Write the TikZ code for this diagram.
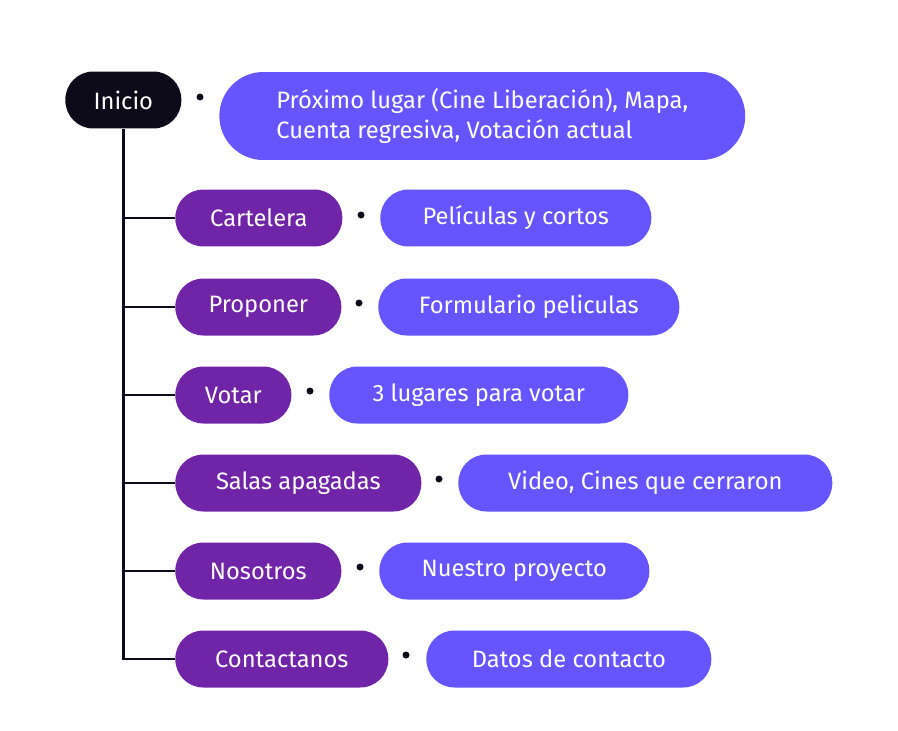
\documentclass[tikz,border=0pt]{standalone}
\usepackage{fontspec}
\setmainfont{Fira Sans}
\definecolor{navy}{HTML}{0D0A1A}
\definecolor{morado}{HTML}{7024A8}
\definecolor{azul}{HTML}{6655FF}
\tikzset{
  pill/.style={rounded corners=0.56cm, minimum height=1.14cm, text=white, font=\fontsize{13.5}{17}\selectfont, anchor=west, inner xsep=0pt},
  seccion/.style={pill, fill=morado},
  detalle/.style={pill, fill=azul},
  punto/.style={circle, fill=navy, inner sep=0pt, minimum size=0.14cm},
  rama/.style={line width=1.6pt, draw=navy}
}
\begin{document}
\begin{tikzpicture}[x=0.02cm, y=-0.02cm]
  % Bounding box
  \useasboundingbox (0,0) rectangle (898,730);

  % Root node and its detail
  \node[pill, fill=navy, minimum width=2.32cm] (inicio) at (65,100) {Inicio};
  \node[punto] (p0) at (200,97) {};
  \node[detalle, minimum width=10.52cm, minimum height=1.76cm, align=left, rounded corners=0.88cm] (d0) at (219,116) {Próximo lugar (Cine Liberación), Mapa,\\Cuenta regresiva, Votación actual};

  % Sections
  \node[seccion, minimum width=3.34cm] (cartelera) at (175,218) {Cartelera};
  \node[seccion, minimum width=3.32cm] (proponer) at (175,307) {Proponer};
  \node[seccion, minimum width=2.32cm] (votar) at (175,395) {Votar};
  \node[seccion, minimum width=4.92cm] (salas) at (175,483) {Salas apagadas};
  \node[seccion, minimum width=3.32cm] (nosotros) at (175,571) {Nosotros};
  \node[seccion, minimum width=4.26cm] (contacto) at (175,659) {Contactanos};

  % Bullets
  \node[punto] (p1) at (361,215) {};
  \node[punto] (p2) at (359,303) {};
  \node[punto] (p3) at (310,391) {};
  \node[punto] (p4) at (439,479) {};
  \node[punto] (p5) at (360,567) {};
  \node[punto] (p6) at (406,655) {};

  % Details
  \node[detalle, minimum width=5.42cm] (d1) at (380,218) {Películas y cortos};
  \node[detalle, minimum width=6.02cm] (d2) at (378,307) {Formulario peliculas};
  \node[detalle, minimum width=5.98cm] (d3) at (329,395) {3 lugares para votar};
  \node[detalle, minimum width=7.48cm] (d4) at (458,483) {Video, Cines que cerraron};
  \node[detalle, minimum width=5.40cm] (d5) at (379,571) {Nuestro proyecto};
  \node[detalle, minimum width=5.70cm] (d6) at (426,659) {Datos de contacto};

  % Tree lines
  \draw[rama] (inicio.south) |- (contacto.west);
  \foreach \n in {cartelera, proponer, votar, salas, nosotros}
    \draw[rama] (inicio.south |- \n.west) -- (\n.west);
\end{tikzpicture}
\end{document}
